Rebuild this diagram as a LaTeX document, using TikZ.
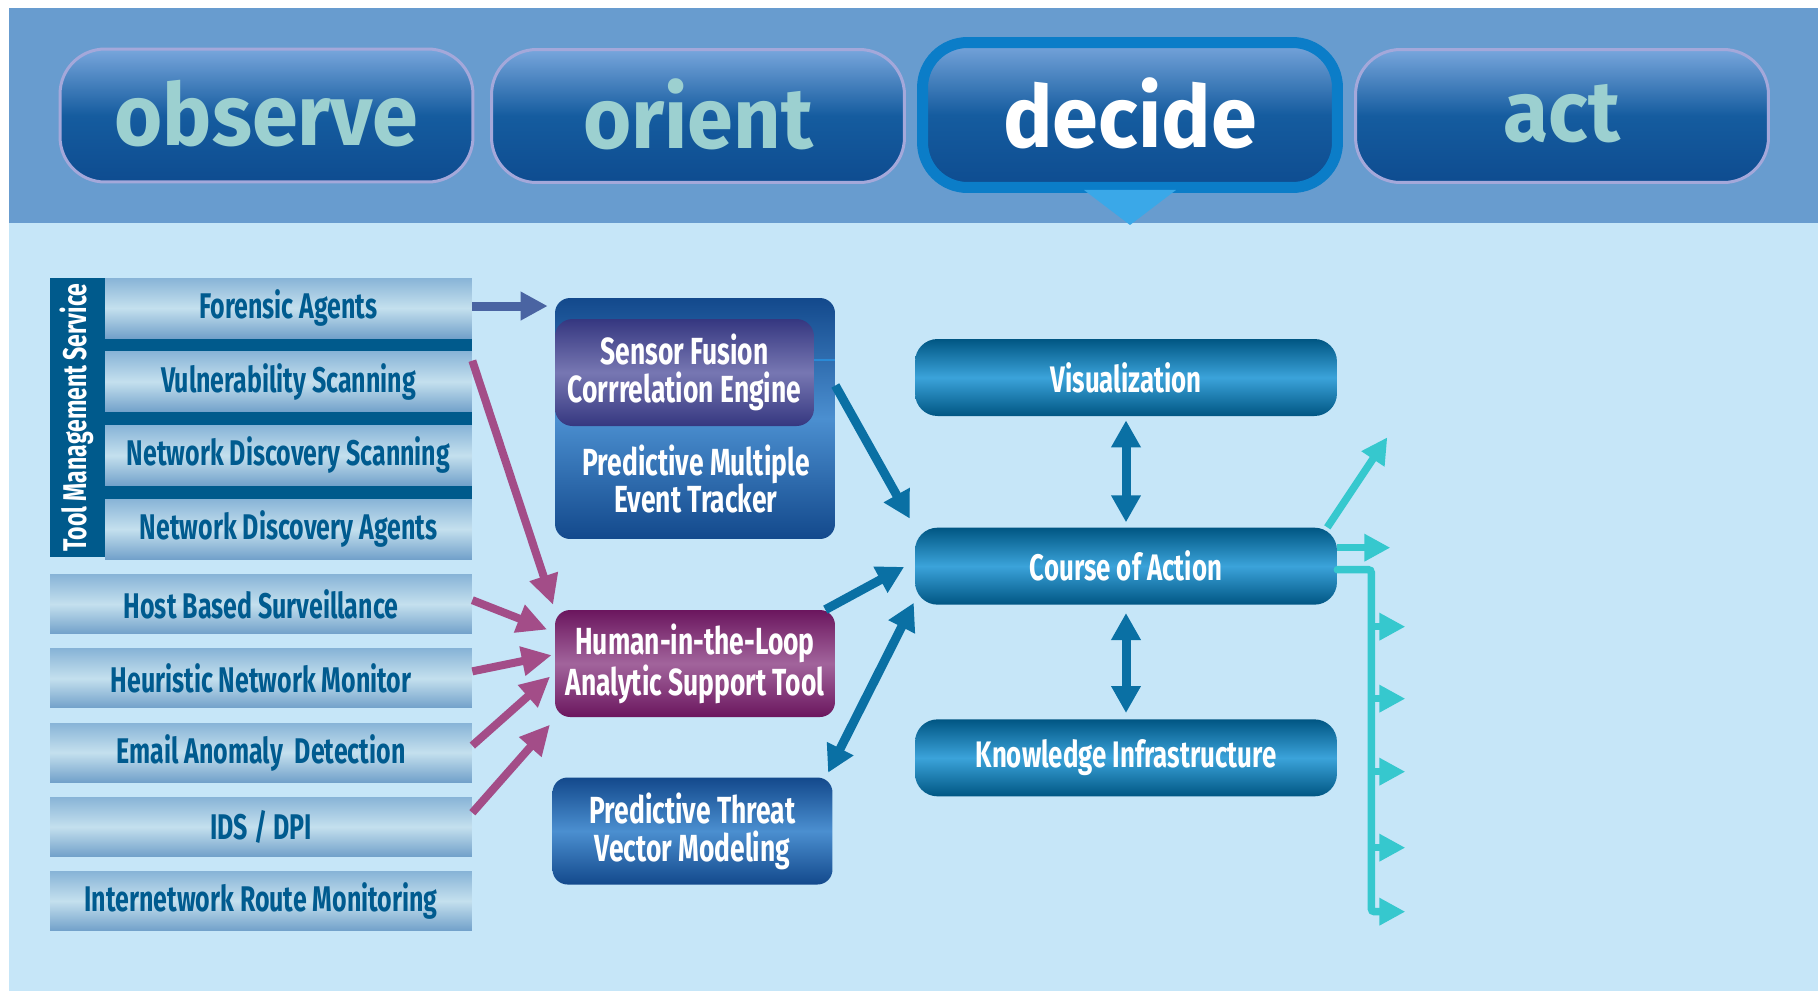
\documentclass[tikz,border=0pt]{standalone}
\usepackage{fontspec}
\setmainfont{Fira Sans}
\newfontfamily\boxfont[FakeStretch=0.7]{Fira Sans}
\newfontfamily\phasefont[FakeStretch=0.96]{Fira Sans}
\usetikzlibrary{arrows.meta, positioning, calc}
\definecolor{colBand}{HTML}{689CCF}
\definecolor{colPale}{HTML}{C6E6F8}
\definecolor{colRowTop}{HTML}{88B4D7}
\definecolor{colRowMid}{HTML}{C4E0EE}
\definecolor{colRowBot}{HTML}{72A1CA}
\definecolor{colRowText}{HTML}{005B8F}
\definecolor{colTms}{HTML}{005A8C}
\definecolor{colBtnTop}{HTML}{78A6DC}
\definecolor{colBtnMid}{HTML}{155C9F}
\definecolor{colBtnBot}{HTML}{0E4C90}
\definecolor{colBtnRim}{HTML}{A4A8DA}
\definecolor{colPhase}{HTML}{9CD0D0}
\definecolor{colRing}{HTML}{0B7DC8}
\definecolor{colPointer}{HTML}{3AA8E8}
\definecolor{colMidTop}{HTML}{13498C}
\definecolor{colMidMid}{HTML}{4B8FD0}
\definecolor{colPurTop}{HTML}{353780}
\definecolor{colPurMid}{HTML}{7777B2}
\definecolor{colHitlTop}{HTML}{6B165E}
\definecolor{colHitlMid}{HTML}{A2649C}
\definecolor{colCoaTop}{HTML}{005683}
\definecolor{colCoaMid}{HTML}{3BA3DA}
\definecolor{colSlate}{HTML}{4A64A2}
\definecolor{colMagenta}{HTML}{A34D88}
\definecolor{colArrBlue}{HTML}{0A70A4}
\definecolor{colCyan}{HTML}{36C8CE}
\definecolor{colThin}{HTML}{2A8AD6}
\tikzset{
    phase/.style={rectangle, rounded corners=0.9cm, minimum width=8.26cm, minimum height=2.66cm,
        top color=colBtnTop, bottom color=colBtnBot, middle color=colBtnMid,
        draw=colBtnRim, line width=0.06cm, text=colPhase,
        font=\phasefont\bfseries\fontsize{49}{52}\selectfont},
    rowbox/.style={rectangle, minimum height=1.2cm, inner sep=0pt,
        top color=colRowTop, bottom color=colRowBot, middle color=colRowMid,
        text=colRowText, font=\boxfont\bfseries\fontsize{20.3}{23}\selectfont},
    midbox/.style={rectangle, rounded corners=0.3cm, minimum width=5.6cm, minimum height=2.14cm,
        top color=colMidTop, bottom color=colMidTop, middle color=colMidMid,
        text=white, align=center, font=\boxfont\bfseries\fontsize{21.5}{21.5}\selectfont},
    coabox/.style={rectangle, rounded corners=0.45cm, minimum width=8.44cm, minimum height=1.54cm,
        top color=colCoaTop, bottom color=colCoaTop, middle color=colCoaMid,
        text=white, font=\boxfont\bfseries\fontsize{21}{24}\selectfont},
    feed/.style={-{Triangle[length=0.6cm,width=0.56cm]}, line width=0.16cm, draw=colMagenta},
    flow/.style={-{Triangle[length=0.54cm,width=0.56cm]}, line width=0.18cm, draw=colArrBlue},
    twoway/.style={{Triangle[length=0.54cm,width=0.56cm]}-{Triangle[length=0.54cm,width=0.56cm]},
        line width=0.18cm, draw=colArrBlue},
    actarrow/.style={-{Triangle[length=0.52cm,width=0.52cm]}, line width=0.15cm, draw=colCyan},
}

\begin{document}
\begin{tikzpicture}[x=0.02cm, y=-0.02cm, node distance=0.26cm]

    \useasboundingbox (0,0) rectangle (1818,991);
    \fill[white] (0,0) rectangle (1818,991);
    \fill[colBand] (9,8) rectangle (1818,223);
    \fill[colPale] (9,223) rectangle (1818,991);

    % OODA phases
    \node[phase] (observe) at (266.5,115.5) {\raisebox{3pt}{observe}};
    \node[phase] (orient) at (698,116) {\raisebox{3pt}{orient}};
    \node[phase] (act) at (1562,116) {\raisebox{3pt}{act}};
    \node[phase, minimum width=8.3cm, minimum height=2.9cm, draw=colRing, line width=0.22cm,
        text=white] (decide) at (1130,115) {\raisebox{3pt}{decide}};
    \fill[colPointer] ($(decide.south)+(-46,-3)$) -- ($(decide.south)+(46,-3)$)
        -- ($(decide.south)+(0,32)$) -- cycle;

    % sensors
    \node[rectangle, fill=colTms, minimum width=8.44cm, minimum height=5.58cm] (tms) at (261,417.5) {};
    \node[rowbox, minimum width=7.34cm, anchor=north east] (fa) at (tms.north east) {Forensic Agents};
    \node[rowbox, minimum width=7.34cm, below=of fa] (vs) {Vulnerability Scanning};
    \node[rowbox, minimum width=7.34cm, below=of vs] (nds) {Network Discovery Scanning};
    \node[rowbox, minimum width=7.34cm, below=of nds] (nda) {Network Discovery Agents};
    \node[rotate=90, text=white, font=\boxfont\bfseries\fontsize{18.7}{20}\selectfont] (tmslabel)
        at ($(tms.west)+(27.5,0)$) {Tool Management Service};

    \node[rowbox, minimum width=8.44cm, minimum height=1.18cm, anchor=north west] (hbs)
        at ([yshift=-0.34cm]tms.south west) {Host Based Surveillance};
    \node[rowbox, minimum width=8.44cm, minimum height=1.18cm, below=0.29cm of hbs] (hnm) {Heuristic Network Monitor};
    \node[rowbox, minimum width=8.44cm, minimum height=1.18cm, below=0.29cm of hnm] (ead) {Email Anomaly\ \ Detection};
    \node[rowbox, minimum width=8.44cm, minimum height=1.18cm, below=0.29cm of ead] (ids) {IDS / DPI};
    \node[rowbox, minimum width=8.44cm, minimum height=1.18cm, below=0.29cm of ids] (irm) {Internetwork Route Monitoring};

    % analysis
    \node[midbox, minimum height=4.82cm] (sf) at (695,418.5) {};
    \node[midbox, minimum width=5.18cm, rounded corners=0.35cm, anchor=north west,
        top color=colPurTop, bottom color=colPurTop, middle color=colPurMid] (sfce)
        at ([yshift=-0.42cm]sf.north west) {Sensor Fusion\\Corrrelation Engine};
    \node[text=white, align=center, font=\boxfont\bfseries\fontsize{21.5}{21.5}\selectfont] (pmet)
        at (696,479) {Predictive Multiple\\Event Tracker};
    \draw[colThin, line width=0.05cm] ([yshift=0.25cm]sfce.east) -- ([yshift=0.25cm]sfce.east -| sf.east);
    \node[midbox, top color=colHitlTop, bottom color=colHitlTop, middle color=colHitlMid] (hitl)
        at (695,663.5) {Human-in-the-Loop\\Analytic Support Tool};
    \node[midbox] (ptvm) at (692.5,831) {Predictive Threat\\Vector Modeling};

    % decision
    \node[coabox] (vis) at (1126,377.5) {Visualization};
    \node[coabox, below=2.22cm of vis] (coa) {Course of Action};
    \node[coabox, below=2.28cm of coa] (ki) {Knowledge Infrastructure};

    \draw[-{Triangle[length=0.54cm,width=0.54cm]}, line width=0.18cm, draw=colSlate, shorten >=0.14cm]
        ([yshift=0.04cm]fa.east) -- ([yshift=0.04cm]fa.east -| sf.west);
    \draw[feed, shorten >=0.1cm] ([yshift=0.42cm]vs.east) -- (hitl.north west);
    \draw[feed, shorten >=0.16cm] ([yshift=0.08cm]hbs.east) -- ([yshift=0.62cm]hitl.west);
    \draw[feed, shorten >=0.06cm] ([yshift=0.14cm]hnm.east) -- ([yshift=0.18cm]hitl.west);
    \draw[feed, shorten >=0.12cm] ([yshift=0.14cm]ead.east) -- ([yshift=-0.18cm]hitl.west);
    \draw[feed, shorten >=0.14cm] ([yshift=0.28cm]ids.east) -- ([yshift=-0.04cm]hitl.south west);

    \draw[flow, shorten >=0.2cm] ([yshift=0.66cm]sf.east) -- (coa.north west);
    \draw[flow, shorten >=0.24cm] ([xshift=-0.2cm]hitl.north east) -- ([yshift=0.1cm]coa.west);
    \draw[twoway, shorten <=0.1cm, shorten >=0.04cm] ([xshift=-0.14cm]ptvm.north east) -- ([yshift=0.08cm]coa.south west);
    \draw[twoway, shorten <=0.08cm, shorten >=0.1cm] (vis) -- (coa);
    \draw[twoway, shorten <=0.16cm, shorten >=0.12cm] (coa) -- (ki);

    % actions
    \draw[actarrow] ([xshift=-0.2cm]coa.north east) -- ++(60,-90);
    \draw[actarrow] ([yshift=0.37cm]coa.east) -- ++(53,0);
    \coordinate (bus) at ([yshift=-0.07cm]coa.east);
    \coordinate (busend) at ($(bus)+(34,342)$);
    \draw[actarrow, line cap=round, rounded corners=0.06cm] (bus) -| (busend) -- ++(34,0);
    \foreach \y in {57,129,202,278}
        \draw[actarrow] ($(bus)+(34,\y)$) -- ++(34,0);

\end{tikzpicture}
\end{document}
